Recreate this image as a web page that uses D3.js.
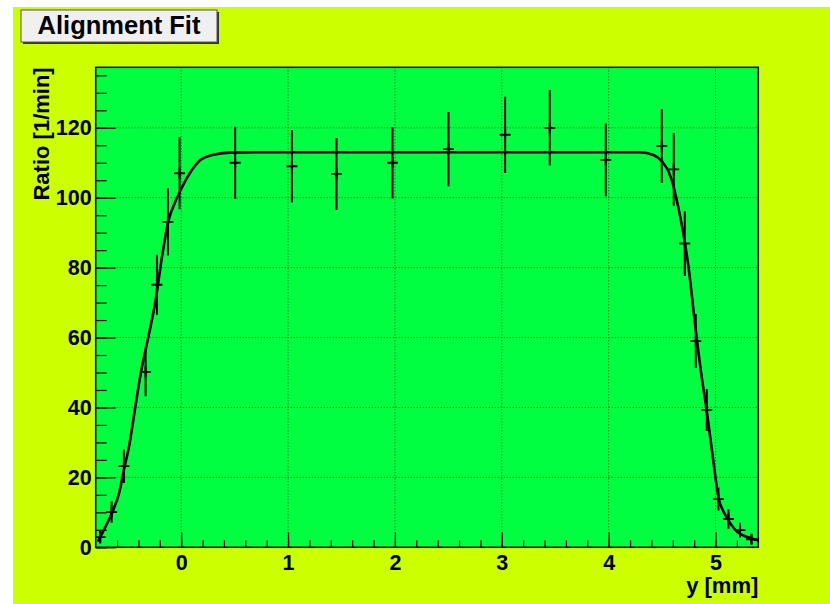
<!DOCTYPE html>
<html>
<head>
<meta charset="utf-8">
<title>Alignment Fit</title>
<script src="https://d3js.org/d3.v7.min.js"></script>
<style>
  body { margin: 0; background: #fff; }
  svg { display: block; font-family: "Liberation Sans", Arial, Helvetica, sans-serif; font-weight: bold; }
</style>
</head>
<body>
<svg id="chart" width="830" height="604"></svg>

<script>
// measured points (y position in mm, ratio in 1/min, error)
const posMM = [-0.758, -0.651, -0.536, -0.333, -0.227, -0.124, -0.015, 0.505, 1.036, 1.453, 1.977, 2.501,
               3.031, 3.449, 3.973, 4.497, 4.609, 4.712, 4.815, 4.918, 5.027, 5.121, 5.229, 5.336];
const ratio = [2.9, 10.1, 23.2, 50.2, 75.1, 93.1, 107.0, 110.0, 109.0, 106.8, 110.0, 113.9,
               118.0, 120.0, 110.8, 114.8, 108.1, 86.9, 59.0, 39.3, 13.8, 8.1, 4.9, 2.3];
const ratioErr = [1.8, 3.1, 4.8, 7.0, 8.6, 9.6, 10.3, 10.3, 10.4, 10.3, 10.2, 10.6,
                  10.9, 10.8, 10.4, 10.6, 10.4, 9.3, 7.7, 6.0, 3.3, 2.8, 2.1, 1.4];

// fit curve
const fitX = [-0.78, -0.70, -0.65, -0.58, -0.53, -0.49, -0.43, -0.38, -0.31, -0.24, -0.18, -0.12, -0.06,
              0.0, 0.08, 0.18, 0.30, 0.45, 0.70, 1.5, 2.5, 3.5, 4.29, 4.42, 4.50, 4.56, 4.60, 4.65, 4.70,
              4.75, 4.80, 4.87, 4.92, 4.98, 5.03, 5.07, 5.10, 5.20, 5.29, 5.40];
const fitY = [1.6, 6.4, 9.7, 15.6, 23.0, 28.5, 40.0, 49.5, 59.8, 70.5, 83.0, 93.3, 98.5,
              102.5, 107.0, 110.8, 112.3, 112.9, 113.0, 113.0, 113.0, 113.0, 113.0, 112.2, 110.3, 107.5, 104.0, 97.4, 89.5,
              79.5, 66.0, 48.8, 38.5, 24.5, 13.8, 10.5, 8.8, 4.5, 3.0, 2.0];

const xTicks = [0, 1, 2, 3, 4, 5];
const yTicks = [0, 20, 40, 60, 80, 100, 120];

const svg = d3.select("#chart");
const frame = {left: 95.7, right: 758.3, top: 67.3, bottom: 547.3};
const fw = frame.right - frame.left, fh = frame.bottom - frame.top;
const font = '"Liberation Sans", Arial, Helvetica, sans-serif';

const x = d3.scaleLinear().domain([-0.8, 5.4]).range([frame.left, frame.right]);
const y = d3.scaleLinear().domain([0, 137.3]).range([frame.bottom, frame.top]);

// canvas + frame
svg.append("rect").attr("x", 13).attr("y", 7).attr("width", 817).attr("height", 597).attr("fill", "#ccff00");
svg.append("rect").attr("x", frame.left).attr("y", frame.top).attr("width", fw).attr("height", fh)
   .attr("fill", "#00ff40");

// grid
const grid = svg.append("g").attr("stroke", "#000").attr("stroke-opacity", 0.7)
   .attr("stroke-width", 1).attr("stroke-dasharray", "1,2");
grid.selectAll(".gx").data(xTicks).join("line")
   .attr("x1", d => x(d)).attr("x2", d => x(d)).attr("y1", frame.top).attr("y2", frame.bottom);
grid.selectAll(".gy").data(yTicks).join("line")
   .attr("x1", frame.left).attr("x2", frame.right).attr("y1", d => y(d)).attr("y2", d => y(d));

// axes (ticks drawn inward, ROOT style)
const xMinor = d3.range(-3, 27).map(i => i / 5);
const yMinor = d3.range(0, 28).map(i => i * 5);

function styleLabels(g) {
  g.select(".domain").remove();
  g.attr("font-family", font).attr("font-size", 21.5).attr("font-weight", "bold");
}

svg.append("g").attr("transform", `translate(0,${frame.bottom})`)
   .call(d3.axisBottom(x).tickValues(xMinor).tickSize(-7).tickFormat(""))
   .call(g => g.select(".domain").remove());
svg.append("g").attr("transform", `translate(0,${frame.bottom})`)
   .call(d3.axisBottom(x).tickValues(xTicks).tickSize(-15).tickPadding(7).tickFormat(d3.format("d")))
   .call(styleLabels);

svg.append("g").attr("transform", `translate(${frame.left},0)`)
   .call(d3.axisLeft(y).tickValues(yMinor).tickSize(-11).tickFormat(""))
   .call(g => g.select(".domain").remove());
svg.append("g").attr("transform", `translate(${frame.left},0)`)
   .call(d3.axisLeft(y).tickValues(yTicks).tickSize(-20).tickPadding(4).tickFormat(d3.format("d")))
   .call(styleLabels);

svg.selectAll(".tick line").attr("stroke-width", 1.2);

svg.append("rect").attr("x", frame.left).attr("y", frame.top).attr("width", fw).attr("height", fh)
   .attr("fill", "none").attr("stroke", "#000").attr("stroke-width", 1.5);

// fit curve
svg.append("clipPath").attr("id", "plotclip").append("rect")
   .attr("x", frame.left).attr("y", frame.top).attr("width", fw).attr("height", fh);

const fitLine = d3.line().x((d, i) => x(fitX[i])).y(d => y(d)).curve(d3.curveMonotoneX);
svg.append("path").datum(fitY)
   .attr("clip-path", "url(#plotclip)")
   .attr("fill", "none").attr("stroke", "#000").attr("stroke-width", 2.6)
   .attr("stroke-linejoin", "round").attr("d", fitLine);

// data points with error bars
const pts = svg.append("g").attr("stroke", "#000").attr("clip-path", "url(#plotclip)");
const idx = d3.range(posMM.length);
pts.selectAll(".err").data(idx).join("line")
   .attr("stroke-width", 2)
   .attr("x1", i => x(posMM[i])).attr("x2", i => x(posMM[i]))
   .attr("y1", i => y(ratio[i] - ratioErr[i])).attr("y2", i => y(ratio[i] + ratioErr[i]));
pts.selectAll(".mkh").data(idx).join("line")
   .attr("stroke-width", 1.8)
   .attr("x1", i => x(posMM[i]) - 5.5).attr("x2", i => x(posMM[i]) + 5.5)
   .attr("y1", i => y(ratio[i])).attr("y2", i => y(ratio[i]));
pts.selectAll(".mkv").data(idx).join("line")
   .attr("stroke-width", 2)
   .attr("x1", i => x(posMM[i])).attr("x2", i => x(posMM[i]))
   .attr("y1", i => y(ratio[i]) - 5.5).attr("y2", i => y(ratio[i]) + 5.5);

// axis titles
svg.append("text")
   .attr("transform", `translate(49,${frame.top}) rotate(-90)`)
   .attr("text-anchor", "end").attr("font-size", 22)
   .text("Ratio [1/min]");
svg.append("text")
   .attr("x", frame.right).attr("y", 593)
   .attr("text-anchor", "end").attr("font-size", 22)
   .text("y [mm]");

// title box
svg.append("rect").attr("x", 23).attr("y", 12).attr("width", 196).attr("height", 32).attr("fill", "#333");
svg.append("rect").attr("x", 21).attr("y", 10).attr("width", 196).attr("height", 32)
   .attr("fill", "#f0f0f0").attr("stroke", "#555").attr("stroke-width", 1);
svg.append("text").attr("x", 119).attr("y", 34).attr("text-anchor", "middle")
   .attr("font-size", 25.5).text("Alignment Fit");
</script>
</body>
</html>
